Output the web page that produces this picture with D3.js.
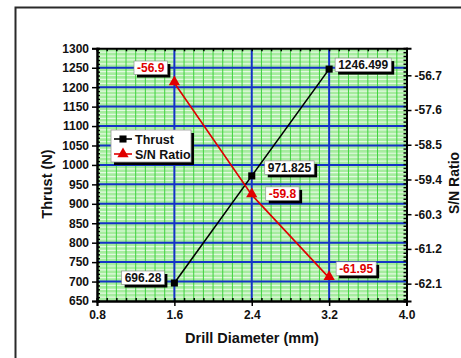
<!DOCTYPE html>
<html>
<head>
<meta charset="utf-8">
<script src="https://cdn.jsdelivr.net/npm/d3@7"></script>
<style>
  html, body { margin: 0; padding: 0; background: #fff; }
  svg { display: block; font-family: "Liberation Sans", Arial, sans-serif; font-weight: bold; }
</style>
</head>
<body>
<svg id="chart" width="461" height="358"></svg>
<script>
// Drill diameter experiment: thrust force and signal-to-noise ratio
const diameters = [1.6, 2.4, 3.2];
const thrust = [696.28, 971.825, 1246.499];
const snRatio = [-56.9, -59.8, -61.95];
const thrustLabels = ["696.28", "971.825", "1246.499"];
const snLabels = ["-56.9", "-59.8", "-61.95"];
const xTicks = [0.8, 1.6, 2.4, 3.2, 4.0];
const yTicks = [650, 700, 750, 800, 850, 900, 950, 1000, 1050, 1100, 1150, 1200, 1250, 1300];
const y2Ticks = [-56.7, -57.6, -58.5, -59.4, -60.3, -61.2, -62.1];

const svg = d3.select("#chart");
const plot = { left: 97, right: 406.5, top: 48.3, bottom: 301 };

const x = d3.scaleLinear().domain([0.8, 4.0]).range([plot.left, plot.right]);
const y = d3.scaleLinear().domain([650, 1300]).range([plot.bottom, plot.top]);
const y2 = d3.scaleLinear().domain([-62.55, -56.0]).range([plot.bottom, plot.top]);

// outer frame
svg.append("rect").attr("x", 15.5).attr("y", 7.5).attr("width", 460).attr("height", 360)
  .attr("fill", "none").attr("stroke", "#2a2a2a").attr("stroke-width", 2);

// plot background
svg.append("rect").attr("x", plot.left).attr("y", plot.top)
  .attr("width", plot.right - plot.left).attr("height", plot.bottom - plot.top)
  .attr("fill", "#a6ec9f");

const grid = svg.append("g");
// minor horizontal grid (every 10 N)
const yMinor = d3.range(660, 1300, 10).filter(v => v % 50 !== 0);
grid.selectAll(".hm").data(yMinor).join("line")
  .attr("x1", plot.left).attr("x2", plot.right)
  .attr("y1", d => y(d)).attr("y2", d => y(d))
  .attr("stroke", "#e4fae2").attr("stroke-width", 1.2);
// minor vertical grid (every 0.1 mm)
const xMinor = d3.range(9, 40).map(v => v / 10).filter(v => Math.abs((v * 10) % 8) > 1e-6);
grid.selectAll(".vm").data(xMinor).join("line")
  .attr("x1", d => x(d)).attr("x2", d => x(d))
  .attr("y1", plot.top).attr("y2", plot.bottom)
  .attr("stroke", "#3fd23f").attr("stroke-width", 1);
// major grid
grid.selectAll(".hM").data(yTicks.slice(1, -1)).join("line")
  .attr("x1", plot.left).attr("x2", plot.right)
  .attr("y1", d => y(d)).attr("y2", d => y(d))
  .attr("stroke", "#1432c8").attr("stroke-width", 2);
grid.selectAll(".vM").data(xTicks.slice(1, -1)).join("line")
  .attr("x1", d => x(d)).attr("x2", d => x(d))
  .attr("y1", plot.top).attr("y2", plot.bottom)
  .attr("stroke", "#1432c8").attr("stroke-width", 2);

// axes
function styleAxis(g) {
  g.selectAll(".domain").attr("stroke", "#000").attr("stroke-width", 2);
  g.selectAll(".tick line").attr("stroke", "#000").attr("stroke-width", 1.5);
  g.selectAll(".tick text").attr("font-size", 12).attr("font-weight", "bold").attr("fill", "#111")
    .attr("font-family", "Liberation Sans, Arial, sans-serif");
}
const minorX = d3.range(8, 41).map(v => v / 10);
const minorY = d3.range(650, 1301, 10);
const minorY2 = d3.range(-62.5, -56.0, 0.1);

// minor tick marks (inward)
svg.append("g").attr("transform", `translate(0,${plot.bottom})`)
  .call(d3.axisTop(x).tickValues(minorX).tickSize(3).tickFormat("")).call(styleAxis);
svg.append("g").attr("transform", `translate(0,${plot.top})`)
  .call(d3.axisBottom(x).tickValues(minorX).tickSize(3).tickFormat("")).call(styleAxis);
svg.append("g").attr("transform", `translate(${plot.left},0)`)
  .call(d3.axisRight(y).tickValues(minorY).tickSize(3).tickFormat("")).call(styleAxis);
svg.append("g").attr("transform", `translate(${plot.right},0)`)
  .call(d3.axisLeft(y2).tickValues(minorY2).tickSize(3).tickFormat("")).call(styleAxis);

// major axes
svg.append("g").attr("transform", `translate(0,${plot.bottom})`)
  .call(d3.axisBottom(x).tickValues(xTicks).tickFormat(d3.format(".1f")).tickSize(5).tickPadding(4))
  .call(styleAxis);
svg.append("g").attr("transform", `translate(${plot.left},0)`)
  .call(d3.axisLeft(y).tickValues(yTicks).tickFormat(d3.format("d")).tickSize(5).tickPadding(3))
  .call(styleAxis);
svg.append("g").attr("transform", `translate(${plot.right},0)`)
  .call(d3.axisRight(y2).tickValues(y2Ticks).tickFormat(d3.format(".1f")).tickSize(5).tickPadding(3))
  .call(styleAxis);
svg.selectAll("text").filter(function () { return this.textContent.indexOf("\u2212") >= 0; })
  .text(function () { return this.textContent.replace("\u2212", "-"); });

// axis titles
svg.append("text").attr("x", 252).attr("y", 343).attr("text-anchor", "middle")
  .attr("font-size", 14.5).attr("fill", "#111").text("Drill Diameter (mm)");
svg.append("text").attr("transform", "translate(52,184) rotate(-90)").attr("text-anchor", "middle")
  .attr("font-size", 14.5).attr("fill", "#111").text("Thrust (N)");
svg.append("text").attr("transform", "translate(459,183) rotate(-90)").attr("text-anchor", "middle")
  .attr("font-size", 14).attr("fill", "#111").text("S/N Ratio");

// series lines
const thrustPts = diameters.map((d, i) => [x(d), y(thrust[i])]);
const snPts = diameters.map((d, i) => [x(d), y2(snRatio[i])]);
svg.append("path").attr("d", d3.line()(thrustPts)).attr("fill", "none")
  .attr("stroke", "#000").attr("stroke-width", 1.6);
svg.append("path").attr("d", d3.line()(snPts)).attr("fill", "none")
  .attr("stroke", "#e00000").attr("stroke-width", 1.6);

const sq = d3.symbol().type(d3.symbolSquare).size(50);
const tri = d3.symbol().type(d3.symbolTriangle).size(55);
svg.selectAll(".sq").data(thrustPts).join("path").attr("d", sq)
  .attr("transform", d => `translate(${d[0]},${d[1]})`).attr("fill", "#000");
svg.selectAll(".tri").data(snPts).join("path").attr("d", tri)
  .attr("transform", d => `translate(${d[0]},${d[1] - 1})`).attr("fill", "#e00000");

// value labels: boxed with a drop shadow
function valueLabel(px, py, text, color, anchor, dx, dy) {
  const g = svg.append("g");
  const t = g.append("text").attr("font-size", 12).attr("fill", color).text(text);
  const w = t.node().getComputedTextLength() + 6;
  const h = 13.5;
  const bx = anchor === "left" ? px - dx - w : px + dx;
  const by = py + dy;
  g.insert("rect", "text").attr("x", bx + 3).attr("y", by + 3).attr("width", w).attr("height", h).attr("fill", "#000");
  g.insert("rect", "text").attr("x", bx).attr("y", by).attr("width", w).attr("height", h)
    .attr("fill", "#fff").attr("stroke", "#888").attr("stroke-width", 0.6);
  t.attr("x", bx + 3).attr("y", by + 11);
}
const thrustLabelPlacement = [["left", 10, -12], ["right", 13, -15], ["right", 6, -11]];
const snLabelPlacement = [["left", 7, -22], ["right", 14, -8], ["right", 7, -16]];
thrustPts.forEach((p, i) => valueLabel(p[0], p[1], thrustLabels[i], "#111",
  thrustLabelPlacement[i][0], thrustLabelPlacement[i][1], thrustLabelPlacement[i][2]));
snPts.forEach((p, i) => valueLabel(p[0], p[1], snLabels[i], "#e00000",
  snLabelPlacement[i][0], snLabelPlacement[i][1], snLabelPlacement[i][2]));

// legend
const lg = svg.append("g").attr("transform", "translate(111,130)");
lg.append("rect").attr("x", 3).attr("y", 3).attr("width", 80).attr("height", 32).attr("fill", "#000");
lg.append("rect").attr("width", 80).attr("height", 32).attr("fill", "#fff")
  .attr("stroke", "#999").attr("stroke-width", 0.8);
const legendItems = [
  { name: "Thrust", color: "#000", sym: sq },
  { name: "S/N Ratio", color: "#e00000", sym: tri }
];
legendItems.forEach((it, i) => {
  const yy = 9 + i * 15;
  lg.append("line").attr("x1", 3).attr("x2", 21).attr("y1", yy).attr("y2", yy)
    .attr("stroke", it.color).attr("stroke-width", 1.6);
  lg.append("path").attr("d", it.sym).attr("transform", `translate(12,${yy})`).attr("fill", it.color);
  lg.append("text").attr("x", 24).attr("y", yy + 4.5).attr("font-size", 12.5).attr("fill", "#111").text(it.name);
});
</script>
</body>
</html>
